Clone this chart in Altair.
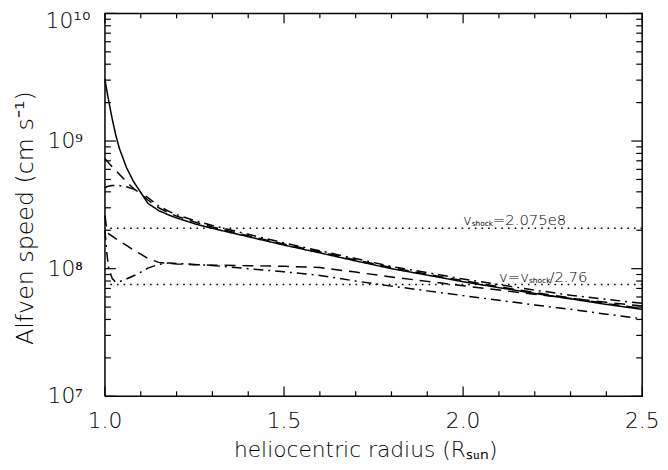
import math
import altair as alt
import pandas as pd

# ---------------- data ----------------
radius = [1.0, 1.005, 1.01, 1.02, 1.03, 1.04, 1.06, 1.08, 1.10, 1.12, 1.15, 1.18, 1.2,
          1.25, 1.3, 1.4, 1.5, 1.6, 1.7, 1.8, 1.9, 2.0, 2.1, 2.2, 2.3, 2.4, 2.5]

v_solid = [3.05e9, 2.5e9, 2.1e9, 1.5e9, 1.12e9, 8.8e8, 6.2e8, 4.8e8, 3.95e8, 3.25e8, 2.85e8, 2.62e8, 2.5e8,
           2.25e8, 2.07e8, 1.78e8, 1.53e8, 1.33e8, 1.15e8, 1.0e8, 8.9e7, 7.9e7, 7.1e7, 6.4e7, 5.8e7, 5.25e7, 4.8e7]
v_dash_hi = [7.3e8, 7.0e8, 6.75e8, 6.3e8, 5.9e8, 5.5e8, 4.8e8, 4.25e8, 3.85e8, 3.45e8, 3.0e8, 2.72e8, 2.58e8,
             2.32e8, 2.12e8, 1.81e8, 1.56e8, 1.355e8, 1.17e8, 1.02e8, 9.05e7, 8.05e7, 7.22e7, 6.5e7, 5.9e7, 5.33e7, 4.88e7]
v_dashdot_hi = [4.3e8, 4.38e8, 4.43e8, 4.48e8, 4.5e8, 4.48e8, 4.38e8, 4.2e8, 3.95e8, 3.6e8, 3.1e8, 2.8e8, 2.65e8,
                2.38e8, 2.18e8, 1.86e8, 1.59e8, 1.38e8, 1.2e8, 1.04e8, 9.3e7, 8.3e7, 7.5e7, 6.8e7, 6.2e7, 5.75e7, 5.35e7]
v_dash_lo = [2.6e8, 2.05e8, 1.88e8, 1.8e8, 1.72e8, 1.65e8, 1.52e8, 1.4e8, 1.3e8, 1.2e8, 1.12e8, 1.1e8, 1.09e8,
             1.075e8, 1.065e8, 1.055e8, 1.045e8, 1.02e8, 9.4e7, 8.6e7, 7.95e7, 7.35e7, 6.8e7, 6.3e7, 5.85e7, 5.45e7, 5.1e7]
v_dashdot_lo = [2.0e8, 1.35e8, 1.02e8, 8.4e7, 7.85e7, 7.9e7, 8.3e7, 8.8e7, 9.4e7, 1.01e8, 1.08e8, 1.11e8, 1.1e8,
                1.08e8, 1.06e8, 1.0e8, 9.45e7, 8.85e7, 8.0e7, 7.3e7, 6.7e7, 6.15e7, 5.65e7, 5.2e7, 4.8e7, 4.4e7, 4.05e7]

v_shock = 2.075e8
shock_ratio = 2.76
ref_levels = [v_shock, v_shock / shock_ratio]

y_major = [1e7, 1e8, 1e9, 1e10]
y_major_labels = ["10\u2077", "10\u2078", "10\u2079", "10\u00b9\u2070"]
y_minor = [k * 10.0 ** e for e in (7, 8, 9) for k in range(2, 10)]
x_major = [1.0, 1.5, 2.0, 2.5]
x_major_labels = ["1.0", "1.5", "2.0", "2.5"]
x_minor = [1.1, 1.2, 1.3, 1.4, 1.6, 1.7, 1.8, 1.9, 2.1, 2.2, 2.3, 2.4]

x_title = "heliocentric radius (R\u209b\u1d64\u2099)"
y_title = "Alfven speed (cm s\u207b\u00b9)"

ann_main_txt = ["v", "=2.075e8", "v=v", "/2.76"]
ann_main_x = [2.0, 2.083, 2.1, 2.241]
ann_main_y = [v_shock, v_shock, v_shock / shock_ratio, v_shock / shock_ratio]
ann_sub_txt = ["shock", "shock"]
ann_sub_x = [2.024, 2.184]
ann_sub_y = [v_shock, v_shock / shock_ratio]

# ---------------- layout ----------------
W, H = 543, 387
FONT = "DejaVu Sans"
X0, X1 = 1.0, 2.5
Y0, Y1 = 1e7, 1e10
px_per_r = W / (X1 - X0)
px_per_dec = H / (math.log10(Y1) - math.log10(Y0))

def dr(px):
    return px / px_per_r

def fy(px):
    return 10 ** (px / px_per_dec)

# ---------------- tables ----------------
series = {
    "solid": v_solid,
    "dash_hi": v_dash_hi,
    "dashdot_hi": v_dashdot_hi,
    "dash_lo": v_dash_lo,
    "dashdot_lo": v_dashdot_lo,
}
rows = []
for name, vals in series.items():
    for r, v in zip(radius, vals):
        rows.append({"r": r, "v": v, "s": name})
df = pd.DataFrame(rows)

# tick marks (inward, on all four sides) as short two-point paths
segs = []
for v in y_major:
    segs += [[(X0, v), (X0 + dr(11), v)], [(X1 - dr(11), v), (X1, v)]]
for v in y_minor:
    segs += [[(X0, v), (X0 + dr(6), v)], [(X1 - dr(6), v), (X1, v)]]
for r in x_major:
    segs += [[(r, Y0), (r, Y0 * fy(10))], [(r, Y1 / fy(10)), (r, Y1)]]
for r in x_minor:
    segs += [[(r, Y0), (r, Y0 * fy(5))], [(r, Y1 / fy(5)), (r, Y1)]]
tick_rows = []
for i, sg in enumerate(segs):
    for j, (r, v) in enumerate(sg):
        tick_rows.append({"id": i, "o": j, "r": r, "v": v})
tick_df = pd.DataFrame(tick_rows)

frame_pts = [(X0, Y0), (X1, Y0), (X1, Y1), (X0, Y1), (X0, Y0)]
frame_df = pd.DataFrame([{"o": i, "r": r, "v": v} for i, (r, v) in enumerate(frame_pts)])

xsc = alt.Scale(domain=[X0, X1], nice=False, zero=False)
ysc = alt.Scale(type="log", domain=[Y0, Y1], nice=False)

X = alt.X("r:Q", scale=xsc, axis=None)
Y = alt.Y("v:Q", scale=ysc, axis=None)

lines = alt.Chart(df).mark_line(strokeWidth=1.5, color="black").encode(
    x=X, y=Y,
    strokeDash=alt.StrokeDash("s:N",
                              scale=alt.Scale(domain=list(series.keys()),
                                              range=[[1, 0], [11, 7], [10, 5, 2, 5], [11, 7], [10, 5, 2, 5]]),
                              legend=None),
    detail="s:N",
)

ref = alt.Chart(pd.DataFrame({"v": ref_levels})).mark_rule(
    color="black", strokeWidth=1.6, strokeDash=[1.6, 5.1]
).encode(y=Y)

ticks = alt.Chart(tick_df).mark_line(color="black", strokeWidth=1.2).encode(
    x=X, y=Y, detail="id:N", order="o:Q")

frame = alt.Chart(frame_df).mark_line(color="black", strokeWidth=1.5).encode(
    x=X, y=Y, order="o:Q")

ylabels = alt.Chart(pd.DataFrame({"v": y_major[:-1], "t": y_major_labels[:-1]})).mark_text(
    align="left", baseline="middle", fontSize=22, font=FONT, fontWeight=200, color="black"
).encode(y=Y, x=alt.value(-58), text="t:N")

ylabel_top = alt.Chart(pd.DataFrame({"v": y_major[-1:], "t": y_major_labels[-1:]})).mark_text(
    align="left", baseline="middle", dy=8, fontSize=22, font=FONT, fontWeight=200, color="black"
).encode(y=Y, x=alt.value(-60), text="t:N")

xlabels = alt.Chart(pd.DataFrame({"r": x_major, "t": x_major_labels})).mark_text(
    align="center", baseline="top", fontSize=22, font=FONT, fontWeight=200, color="black"
).encode(x=X, y=alt.value(H + 15), text="t:N")

xtitle = alt.Chart(pd.DataFrame({"t": [x_title]})).mark_text(
    align="center", baseline="alphabetic", fontSize=22, font=FONT, fontWeight=200, color="black"
).encode(x=alt.value(W / 2 - 8), y=alt.value(H + 61), text="t:N")

ytitle = alt.Chart(pd.DataFrame({"t": [y_title]})).mark_text(
    align="center", baseline="middle", angle=270, fontSize=24, font=FONT, fontWeight=200, color="black"
).encode(x=alt.value(-80), y=alt.value(207), text="t:N")

ann_main = alt.Chart(pd.DataFrame({"t": ann_main_txt, "r": ann_main_x, "v": ann_main_y})).mark_text(
    align="left", baseline="alphabetic", dy=-3, fontSize=15, font=FONT, fontWeight=200, color="black"
).encode(x=X, y=Y, text="t:N")

ann_sub = alt.Chart(pd.DataFrame({"t": ann_sub_txt, "r": ann_sub_x, "v": ann_sub_y})).mark_text(
    align="left", baseline="alphabetic", dy=-2, fontSize=7.5, font=FONT, color="black"
).encode(x=X, y=Y, text="t:N")

chart = alt.layer(
    lines, ref, ticks, frame,
    ylabels, ylabel_top, xlabels, xtitle, ytitle,
    ann_main, ann_sub,
).properties(
    width=W, height=H,
    autosize=alt.AutoSizeParams(type="none"),
    padding={"left": 98, "top": 3, "right": 18, "bottom": 70},
    background="white",
).configure_view(stroke=None)

chart.save("out.html", embed_options={"renderer": "svg", "actions": False})
